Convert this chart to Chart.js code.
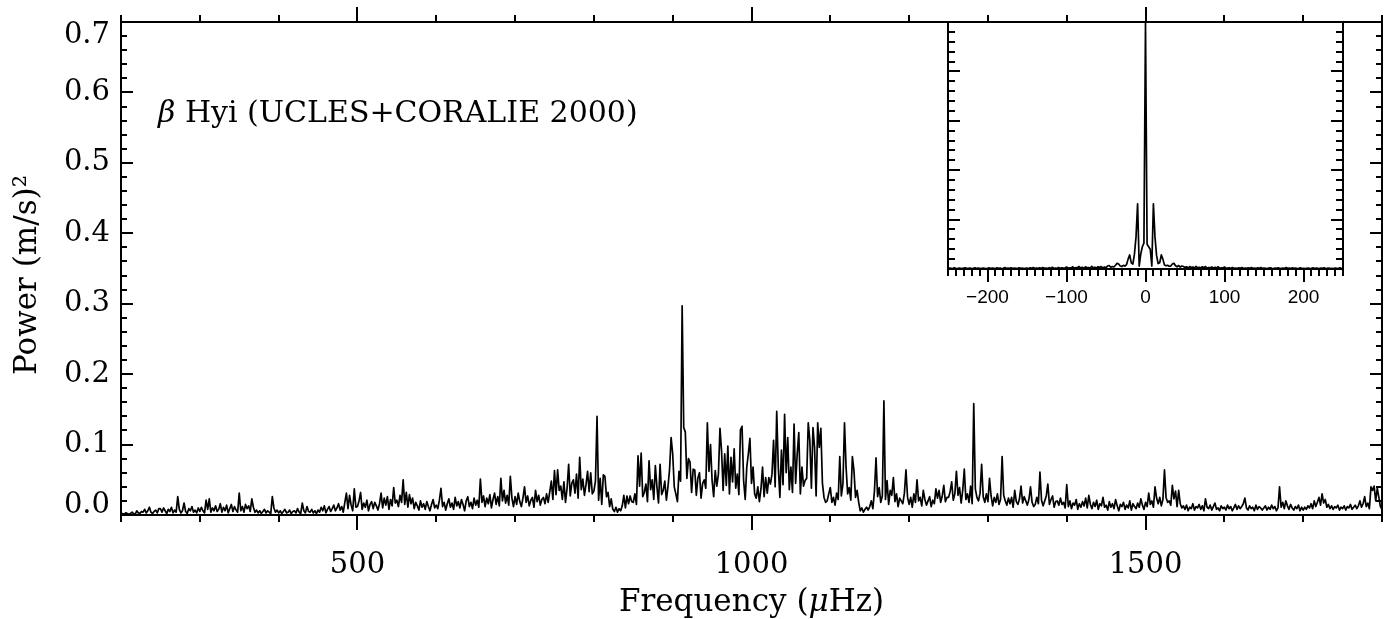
<!DOCTYPE html>
<html lang="en">
<head>
<meta charset="UTF-8">
<title>beta Hyi power spectrum</title>
<script src="https://cdn.jsdelivr.net/npm/chart.js"></script>
<style>
  body { margin: 0; background: #fff; }
  .wrap { position: relative; width: 1393px; height: 619px; }
  #mainChart { position: absolute; left: 0; top: 0; }
  #insetChart { position: absolute; left: 900px; top: 0; }
</style>
</head>
<body>
<div class="wrap">
  <canvas id="mainChart" width="1393" height="619"></canvas>
  <canvas id="insetChart" width="493" height="330"></canvas>
</div>
<script>
// main spectrum: 200..1800 uHz, one value every 2 uHz, power in (m/s)^2
const freqStart = 200;
const freqStep = 2;
const powerMain = [
  // 200
  0.001,0.002,0.001,0.003,0.002,0.001,0.002,0.004,0.002,0.001,0.006,0.003,0.002,0.005,0.004,0.008,0.003,0.006,0.011,0.004,0.002,0.005,0.007,0.003,0.009,
  // 250
  0.009,0.004,0.010,0.006,0.002,0.008,0.005,0.011,0.003,0.007,0.004,0.026,0.008,0.003,0.006,0.017,0.005,0.002,0.009,0.006,0.012,0.004,0.007,0.003,0.010,
  // 300
  0.005,0.011,0.006,0.003,0.021,0.008,0.023,0.004,0.010,0.006,0.013,0.005,0.008,0.016,0.004,0.011,0.006,0.014,0.003,0.009,0.015,0.005,0.012,0.007,0.004,
  // 350
  0.031,0.006,0.012,0.004,0.015,0.009,0.013,0.005,0.023,0.011,0.004,0.007,0.003,0.006,0.002,0.005,0.008,0.003,0.006,0.004,0.002,0.026,0.010,0.004,0.007,
  // 400
  0.003,0.006,0.002,0.005,0.008,0.003,0.004,0.007,0.002,0.005,0.006,0.003,0.009,0.004,0.002,0.017,0.006,0.003,0.012,0.005,0.004,0.008,0.003,0.006,0.002,
  // 450
  0.007,0.004,0.011,0.006,0.013,0.003,0.008,0.012,0.005,0.009,0.014,0.006,0.010,0.016,0.007,0.012,0.004,0.018,0.031,0.009,0.028,0.014,0.006,0.037,0.011,
  // 500
  0.012,0.020,0.032,0.008,0.017,0.011,0.021,0.006,0.015,0.019,0.009,0.018,0.013,0.007,0.016,0.031,0.010,0.024,0.014,0.026,0.008,0.022,0.013,0.039,0.017,
  // 550
  0.021,0.012,0.028,0.018,0.050,0.015,0.032,0.011,0.029,0.016,0.024,0.009,0.018,0.013,0.007,0.020,0.011,0.016,0.008,0.019,0.012,0.006,0.015,0.022,0.010,
  // 600
  0.014,0.009,0.021,0.038,0.012,0.018,0.007,0.016,0.023,0.011,0.017,0.008,0.025,0.013,0.019,0.010,0.022,0.015,0.006,0.020,0.026,0.012,0.018,0.009,0.024,
  // 650
  0.014,0.021,0.011,0.051,0.018,0.027,0.012,0.024,0.016,0.029,0.010,0.022,0.031,0.015,0.026,0.013,0.052,0.020,0.035,0.017,0.028,0.014,0.055,0.024,0.012,
  // 700
  0.026,0.015,0.031,0.019,0.012,0.024,0.040,0.018,0.027,0.013,0.021,0.025,0.011,0.035,0.019,0.028,0.014,0.022,0.025,0.016,0.030,0.018,0.033,0.048,0.022,
  // 750
  0.063,0.029,0.064,0.035,0.041,0.022,0.047,0.018,0.038,0.072,0.027,0.045,0.050,0.031,0.058,0.024,0.082,0.036,0.051,0.028,0.043,0.062,0.033,0.060,0.030,
  // 800
  0.034,0.048,0.140,0.021,0.052,0.015,0.057,0.055,0.026,0.032,0.012,0.023,0.008,0.005,0.011,0.004,0.009,0.006,0.013,0.028,0.010,0.027,0.016,0.027,0.019,
  // 850
  0.018,0.030,0.015,0.084,0.041,0.088,0.026,0.032,0.044,0.019,0.077,0.036,0.050,0.022,0.070,0.040,0.017,0.072,0.029,0.035,0.048,0.021,0.040,0.064,0.110,
  // 900
  0.087,0.040,0.030,0.019,0.062,0.048,0.297,0.124,0.118,0.052,0.080,0.075,0.032,0.065,0.064,0.028,0.053,0.060,0.024,0.045,0.050,0.038,0.131,0.062,0.100,
  // 950
  0.049,0.026,0.063,0.041,0.058,0.123,0.091,0.035,0.087,0.042,0.098,0.030,0.082,0.047,0.094,0.038,0.058,0.029,0.121,0.126,0.049,0.022,0.068,0.087,0.109,
  // 1000
  0.045,0.068,0.030,0.024,0.040,0.019,0.037,0.068,0.026,0.053,0.031,0.053,0.044,0.058,0.106,0.040,0.147,0.068,0.025,0.092,0.043,0.143,0.060,0.110,0.036,
  // 1050
  0.068,0.032,0.129,0.045,0.087,0.117,0.030,0.068,0.041,0.049,0.052,0.131,0.106,0.038,0.124,0.096,0.027,0.131,0.096,0.123,0.045,0.025,0.018,0.020,0.030,
  // 1100
  0.039,0.018,0.025,0.014,0.031,0.022,0.083,0.027,0.044,0.131,0.068,0.030,0.039,0.021,0.083,0.063,0.025,0.035,0.018,0.006,0.010,0.004,0.008,0.011,0.007,
  // 1150
  0.012,0.020,0.009,0.034,0.081,0.026,0.039,0.018,0.027,0.162,0.022,0.049,0.015,0.035,0.028,0.053,0.019,0.030,0.012,0.024,0.020,0.016,0.031,0.064,0.025,
  // 1200
  0.015,0.025,0.011,0.030,0.018,0.050,0.020,0.025,0.013,0.035,0.022,0.014,0.020,0.026,0.012,0.021,0.016,0.037,0.024,0.035,0.018,0.027,0.042,0.019,0.025,
  // 1250
  0.025,0.033,0.047,0.021,0.030,0.062,0.028,0.039,0.017,0.035,0.065,0.022,0.030,0.018,0.041,0.016,0.158,0.037,0.025,0.020,0.031,0.072,0.026,0.018,0.030,
  // 1300
  0.019,0.052,0.027,0.013,0.025,0.018,0.030,0.015,0.022,0.083,0.028,0.020,0.014,0.024,0.016,0.025,0.011,0.035,0.019,0.015,0.023,0.041,0.017,0.026,0.020,
  // 1350
  0.014,0.022,0.040,0.018,0.012,0.015,0.025,0.016,0.061,0.021,0.013,0.020,0.027,0.044,0.015,0.022,0.027,0.011,0.019,0.020,0.014,0.024,0.015,0.018,0.010,
  // 1400
  0.043,0.012,0.020,0.009,0.017,0.014,0.022,0.008,0.016,0.011,0.019,0.013,0.024,0.010,0.028,0.015,0.009,0.018,0.012,0.021,0.008,0.016,0.013,0.025,0.011,
  // 1450
  0.014,0.007,0.019,0.011,0.016,0.009,0.022,0.013,0.006,0.015,0.012,0.018,0.008,0.014,0.010,0.020,0.007,0.016,0.012,0.009,0.017,0.011,0.023,0.014,0.008,
  // 1500
  0.018,0.012,0.031,0.015,0.020,0.011,0.040,0.024,0.016,0.025,0.013,0.022,0.064,0.025,0.018,0.020,0.014,0.042,0.023,0.034,0.012,0.035,0.016,0.010,0.013,
  // 1550
  0.008,0.014,0.006,0.011,0.009,0.016,0.007,0.012,0.010,0.015,0.008,0.013,0.006,0.023,0.011,0.009,0.014,0.007,0.012,0.017,0.008,0.010,0.006,0.013,0.009,
  // 1600
  0.011,0.007,0.014,0.009,0.012,0.006,0.010,0.015,0.008,0.013,0.009,0.012,0.016,0.024,0.010,0.007,0.013,0.009,0.011,0.006,0.014,0.008,0.012,0.010,0.007,
  // 1650
  0.010,0.013,0.007,0.011,0.008,0.014,0.009,0.012,0.006,0.010,0.040,0.011,0.018,0.009,0.020,0.013,0.008,0.015,0.010,0.007,0.012,0.009,0.014,0.006,0.011,
  // 1700
  0.007,0.011,0.008,0.013,0.010,0.016,0.009,0.020,0.012,0.018,0.025,0.014,0.030,0.017,0.022,0.011,0.015,0.009,0.013,0.008,0.012,0.010,0.014,0.007,0.011,
  // 1750
  0.009,0.013,0.007,0.012,0.010,0.015,0.008,0.011,0.014,0.009,0.013,0.020,0.011,0.016,0.026,0.012,0.017,0.009,0.040,0.035,0.041,0.020,0.038,0.025,0.012,0.008
];

// spectral window (inset): -250..250 uHz every 2 uHz, normalised power
const winStart = -250;
const winStep = 2;
const powerWindow = [
  0.002,0.004,0.003,0.002,0.005,0.003,0.002,0.004,0.003,0.002,0.004,0.005,0.002,0.003,0.004,0.002,0.003,0.005,0.002,0.004,0.003,0.002,0.004,0.003,0.002,
  0.003,0.005,0.002,0.004,0.003,0.002,0.005,0.003,0.004,0.002,0.003,0.006,0.002,0.004,0.003,0.005,0.002,0.004,0.003,0.002,0.005,0.003,0.004,0.002,0.003,
  0.004,0.002,0.005,0.003,0.006,0.002,0.004,0.003,0.005,0.002,0.006,0.003,0.004,0.002,0.005,0.003,0.007,0.002,0.004,0.003,0.006,0.002,0.005,0.004,0.003,
  0.008,0.003,0.005,0.004,0.009,0.003,0.006,0.005,0.010,0.004,0.007,0.003,0.009,0.005,0.006,0.004,0.011,0.005,0.007,0.004,0.009,0.006,0.010,0.004,0.008,
  0.006,0.012,0.014,0.007,0.010,0.008,0.015,0.023,0.020,0.012,0.010,0.015,0.012,0.018,0.040,0.057,0.025,0.020,0.060,0.130,0.264,0.012,0.060,0.090,0.105,
  1.000,
  0.100,0.090,0.080,0.012,0.264,0.130,0.055,0.022,0.025,0.057,0.040,0.016,0.013,0.015,0.011,0.012,0.020,0.023,0.013,0.009,0.014,0.008,0.012,0.010,0.006,
  0.009,0.004,0.010,0.006,0.008,0.004,0.011,0.005,0.007,0.004,0.009,0.005,0.010,0.003,0.006,0.005,0.008,0.003,0.007,0.004,0.009,0.003,0.005,0.004,0.008,
  0.003,0.004,0.005,0.002,0.006,0.003,0.004,0.002,0.005,0.003,0.006,0.002,0.004,0.003,0.005,0.002,0.006,0.003,0.004,0.002,0.005,0.003,0.006,0.002,0.004,
  0.003,0.002,0.004,0.005,0.003,0.002,0.004,0.003,0.005,0.002,0.003,0.004,0.002,0.006,0.003,0.004,0.002,0.005,0.003,0.004,0.002,0.003,0.005,0.002,0.003,
  0.002,0.003,0.004,0.002,0.003,0.005,0.002,0.004,0.003,0.002,0.004,0.003,0.005,0.002,0.003,0.004,0.002,0.003,0.002,0.004,0.003,0.002,0.005,0.003,0.002
];

// ticks and labels
const mainXTicks = [200,300,400,500,600,700,800,900,1000,1100,1200,1300,1400,1500,1600,1700,1800];
const mainXMajor = [500,1000,1500];
const mainXLabels = ['500','1000','1500'];
const mainYMajor = [0,0.1,0.2,0.3,0.4,0.5,0.6,0.7];
const mainYLabels = ['0.0','0.1','0.2','0.3','0.4','0.5','0.6','0.7'];
const insetXMajor = [-200,-100,0,100,200];
const insetXLabels = ['\u2212200','\u2212100','0','100','200'];

if (powerMain.length !== 801) throw new Error('powerMain has ' + powerMain.length + ' values');
if (powerWindow.length !== 251) throw new Error('powerWindow has ' + powerWindow.length + ' values');

const mainPoints = powerMain.map((p, i) => ({ x: freqStart + i * freqStep, y: p }));
const winPoints = powerWindow.map((p, i) => ({ x: winStart + i * winStep, y: p }));

const serif = '"DejaVu Serif", serif';

function drawPieces(ctx, pieces, x, y, align) {
  // pieces: [text, font]
  let total = 0;
  pieces.forEach(p => { ctx.font = p[1]; total += ctx.measureText(p[0]).width; });
  let cx = align === 'center' ? x - total / 2 : x;
  ctx.textAlign = 'left';
  pieces.forEach(p => { ctx.font = p[1]; ctx.fillText(p[0], cx, y); cx += ctx.measureText(p[0]).width; });
}

const mainFrame = {
  id: 'mainFrame',
  afterDraw(chart) {
    const ctx = chart.ctx, a = chart.chartArea;
    const xs = chart.scales.x, ys = chart.scales.y;
    ctx.save();
    ctx.strokeStyle = '#000';
    ctx.fillStyle = '#000';
    ctx.lineWidth = 2;
    ctx.strokeRect(a.left, a.top, a.right - a.left, a.bottom - a.top);

    ctx.beginPath();
    mainXTicks.forEach(v => {
      const px = Math.round(xs.getPixelForValue(v));
      const len = mainXMajor.includes(v) ? 15 : 7;
      ctx.moveTo(px, a.bottom); ctx.lineTo(px, a.bottom + len);
      ctx.moveTo(px, a.top); ctx.lineTo(px, a.top - len);
    });
    for (let k = 0; k <= 35; k++) {
      const py = Math.round(ys.getPixelForValue(k * 0.02));
      const len = k % 5 === 0 ? 12 : 6;
      ctx.moveTo(a.left, py); ctx.lineTo(a.left + len, py);
      ctx.moveTo(a.right, py); ctx.lineTo(a.right - len, py);
    }
    ctx.stroke();

    // tick labels
    ctx.font = '29px ' + serif;
    ctx.textBaseline = 'middle';
    ctx.textAlign = 'center';
    mainXMajor.forEach((v, i) => {
      ctx.fillText(mainXLabels[i], xs.getPixelForValue(v), a.bottom + 50);
    });
    ctx.textAlign = 'right';
    mainYMajor.forEach((v, i) => {
      let py = ys.getPixelForValue(v);
      py = Math.min(Math.max(py, a.top + 13), a.bottom - 10);
      ctx.fillText(mainYLabels[i], a.left - 11, py);
    });

    // axis titles
    ctx.textBaseline = 'middle';
    drawPieces(ctx, [['Frequency (', '31px ' + serif], ['\u03bc', 'italic 31px ' + serif], ['Hz)', '31px ' + serif]],
      (a.left + a.right) / 2, 603, 'center');
    ctx.save();
    ctx.translate(28, 275);
    ctx.rotate(-Math.PI / 2);
    ctx.font = '31px ' + serif;
    ctx.textAlign = 'center';
    ctx.fillText('Power (m/s)\u00b2', 0, 0);
    ctx.restore();

    // annotation
    ctx.textBaseline = 'alphabetic';
    drawPieces(ctx, [['\u03b2', 'italic 30px ' + serif], [' Hyi (UCLES+CORALIE 2000)', '30px ' + serif]], 158, 122, 'left');
    ctx.restore();
  }
};

const insetFrame = {
  id: 'insetFrame',
  afterDraw(chart) {
    const ctx = chart.ctx, a = chart.chartArea;
    const xs = chart.scales.x, ys = chart.scales.y;
    ctx.save();
    ctx.strokeStyle = '#000';
    ctx.fillStyle = '#000';
    ctx.lineWidth = 2;
    ctx.strokeRect(a.left, a.top, a.right - a.left, a.bottom - a.top);
    ctx.beginPath();
    for (let v = -250; v <= 250; v += 10) {
      const px = Math.round(xs.getPixelForValue(v));
      const len = v % 100 === 0 ? 13 : 7;
      ctx.moveTo(px, a.bottom); ctx.lineTo(px, a.bottom + len);
    }
    for (let k = 0; k <= 25; k++) {
      const py = Math.round(ys.getPixelForValue(k * 0.04));
      const len = k % 5 === 0 ? 12 : 7;
      ctx.moveTo(a.left, py); ctx.lineTo(a.left + len, py);
      ctx.moveTo(a.right, py); ctx.lineTo(a.right - len, py);
    }
    ctx.stroke();
    ctx.font = '19px "Liberation Sans", sans-serif';
    ctx.textAlign = 'center';
    ctx.textBaseline = 'middle';
    insetXMajor.forEach((v, i) => {
      ctx.fillText(insetXLabels[i], xs.getPixelForValue(v), a.bottom + 29);
    });
    ctx.restore();
  }
};

const mainChart = new Chart(document.getElementById('mainChart'), {
  type: 'line',
  data: {
    datasets: [{
      data: mainPoints,
      borderColor: '#000',
      borderWidth: 1.7,
      borderJoinStyle: 'round',
      pointRadius: 0,
      tension: 0,
      fill: false
    }]
  },
  options: {
    responsive: false,
    animation: false,
    devicePixelRatio: 1,
    layout: { padding: { left: 121, right: 11, top: 22, bottom: 104 } },
    scales: {
      x: { type: 'linear', min: 200, max: 1800, display: false },
      y: { min: 0, max: 0.7, display: false }
    },
    plugins: { legend: { display: false }, tooltip: { enabled: false } }
  },
  plugins: [mainFrame]
});

const insetChart = new Chart(document.getElementById('insetChart'), {
  type: 'line',
  data: {
    datasets: [{
      data: winPoints,
      borderColor: '#000',
      borderWidth: 1.7,
      borderJoinStyle: 'round',
      pointRadius: 0,
      tension: 0,
      fill: false
    }]
  },
  options: {
    responsive: false,
    animation: false,
    devicePixelRatio: 1,
    layout: { padding: { left: 48, right: 50, top: 22, bottom: 61 } },
    scales: {
      x: { type: 'linear', min: -250, max: 250, display: false },
      y: { min: 0, max: 1, display: false }
    },
    plugins: { legend: { display: false }, tooltip: { enabled: false } }
  },
  plugins: [insetFrame]
});
</script>
</body>
</html>
